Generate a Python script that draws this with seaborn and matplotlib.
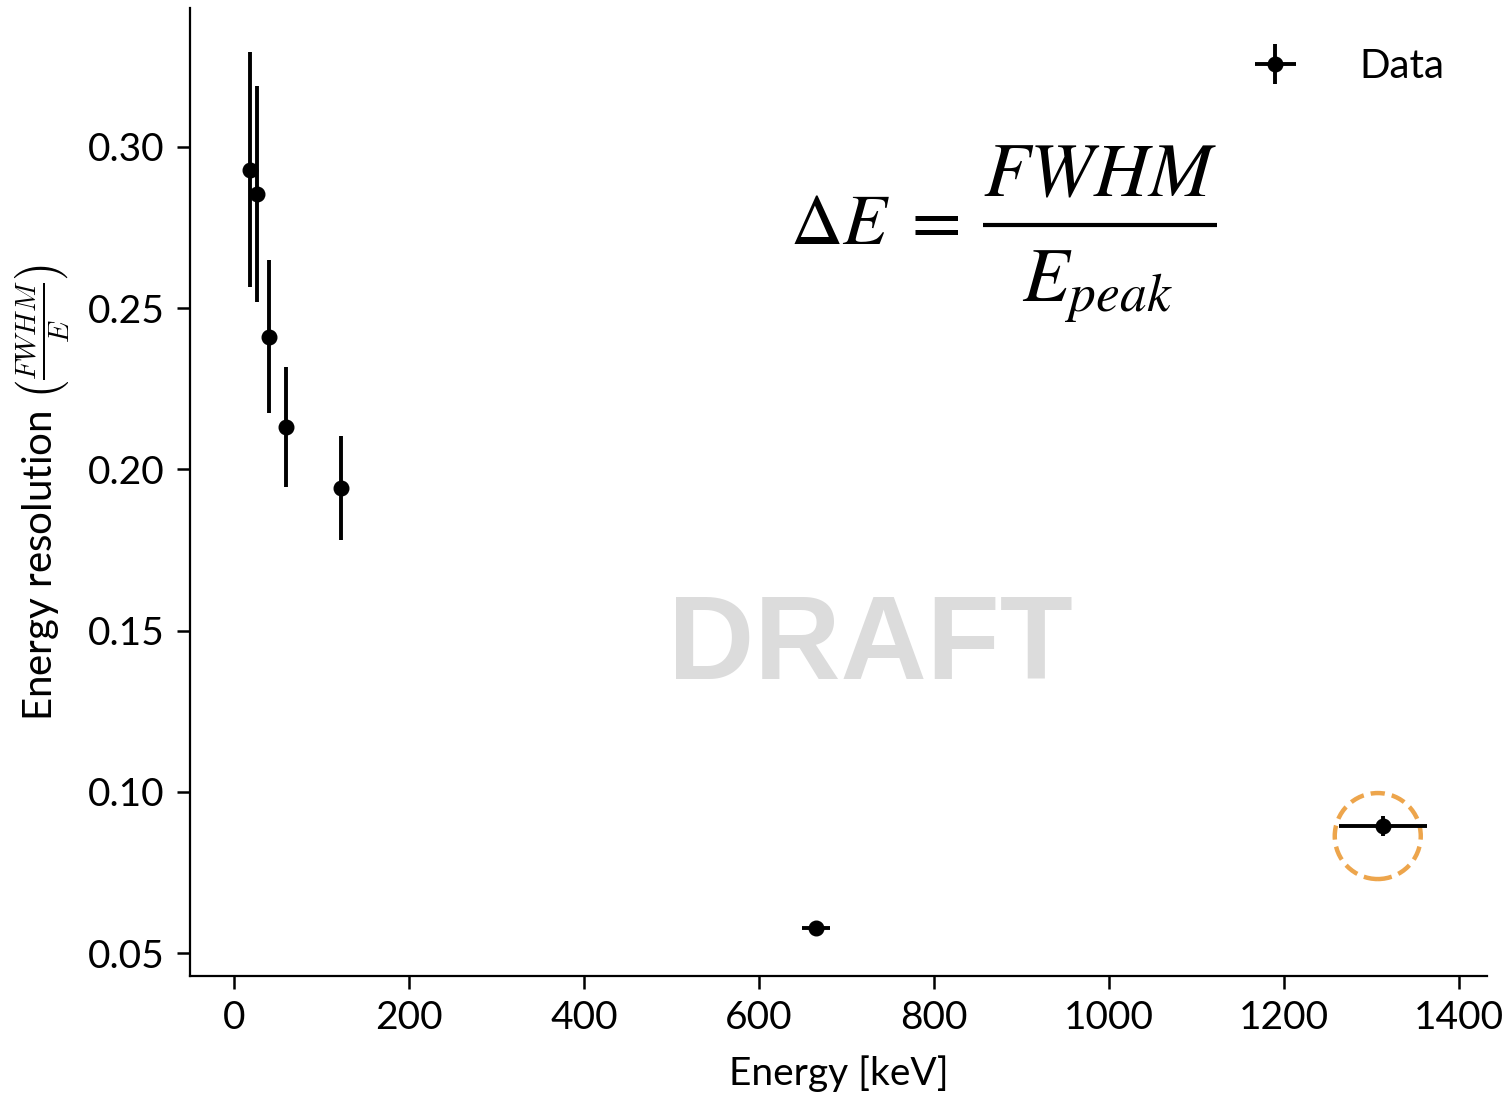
import numpy as np
import pandas as pd
import matplotlib
matplotlib.use("Agg")
import matplotlib.pyplot as plt
from matplotlib.patches import Circle
from matplotlib.lines import Line2D
from matplotlib.transforms import ScaledTranslation
import seaborn as sns

# Measured peaks: energy [keV] and relative resolution FWHM/E
energy = [18.0, 26.3, 40.0, 59.5, 123.0, 665.0, 1313.0]
energy_err = [0.0, 0.0, 0.0, 0.0, 0.0, 16.0, 50.0]
resolution = [0.2929, 0.2854, 0.2411, 0.2131, 0.1942, 0.0578, 0.0894]
resolution_err = [0.0365, 0.0335, 0.0237, 0.0185, 0.0160, 0.0012, 0.0030]

x_ticks = [0, 200, 400, 600, 800, 1000, 1200, 1400]
y_ticks = [0.05, 0.10, 0.15, 0.20, 0.25, 0.30]

df = pd.DataFrame({"energy": energy, "energy_err": energy_err,
                   "resolution": resolution, "resolution_err": resolution_err})

sns.set_theme(style="ticks")
plt.rcParams["font.family"] = ["Lato", "DejaVu Sans"]
plt.rcParams["mathtext.fontset"] = "cm"
plt.rcParams["text.color"] = "black"
plt.rcParams["axes.labelcolor"] = "black"

fig = plt.figure(figsize=(15.08, 11.02), dpi=100)
ax = fig.add_axes([0.126, 0.1143, 0.860, 0.8784])

ax.errorbar(df["energy"], df["resolution"], xerr=df["energy_err"],
            yerr=df["resolution_err"], fmt="o", color="black",
            markersize=10.5, elinewidth=2.8, capsize=0, label="Data")

ax.set_xlim(-50, 1432)
ax.set_ylim(0.0429, 0.343)
ax.set_xticks(x_ticks)
ax.set_yticks(y_ticks)
ax.set_yticklabels([f"{v:.2f}" for v in y_ticks])
ax.tick_params(axis="both", labelsize=28, length=9.5, width=1.8, colors="black")
ax.tick_params(axis="x", pad=8)
ax.tick_params(axis="y", pad=9)
for s in ("left", "bottom"):
    ax.spines[s].set_linewidth(1.6)
    ax.spines[s].set_color("black")
sns.despine(ax=ax)

ax.set_xlabel("Energy [keV]", fontsize=28, labelpad=14)
ax.set_ylabel(r"Energy resolution $\left(\frac{FWHM}{E}\right)$", fontsize=29,
              labelpad=12)

leg = ax.legend(loc="upper right", frameon=False, fontsize=29,
                handlelength=1.05, handletextpad=1.55, borderaxespad=0.6,
                bbox_to_anchor=(0.998, 1.0))

# Definition of the resolution: dE = FWHM / E_peak
eq_style = dict(transform=ax.transAxes, color="black", math_fontfamily="stix")
ax.text(0.4626, 0.777, r"$\Delta E\;=$", fontsize=52, ha="left",
        va="center", **eq_style)
ax.text(0.7016, 0.8068, r"$FWHM$", fontsize=55, ha="center",
        va="baseline", **eq_style)
ax.text(0.6995, 0.698, r"$E_{peak}$", fontsize=55, ha="center",
        va="baseline", **eq_style)
ax.add_line(Line2D([0.6114, 0.7918], [0.7758, 0.7758], transform=ax.transAxes,
                   color="black", linewidth=3.0, solid_capstyle="butt"))

# Watermark
ax.text(0.525, 0.338, "DRAFT", transform=ax.transAxes, fontsize=86,
        fontweight="bold", color="#dcdcdc", ha="center", va="center",
        family="Liberation Sans", zorder=0)

# Highlight around the highest-energy point
hl = ScaledTranslation(energy[-1], resolution[-1], ax.transData)
ring = Circle((-0.05, -0.10), radius=0.43, transform=fig.dpi_scale_trans + hl,
              fill=False, edgecolor="#eda54c", linewidth=3.2,
              linestyle=(0, (3.2, 1.6)), clip_on=False)
ax.add_patch(ring)

fig.savefig("out.png", dpi=100)
